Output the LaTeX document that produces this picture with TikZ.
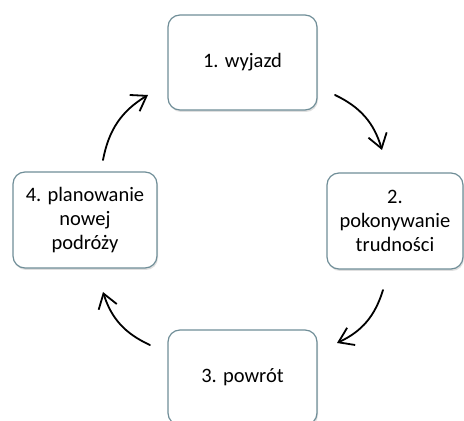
\documentclass[tikz,border=0pt]{standalone}
\usepackage{fontspec}
\setmainfont{Carlito}
\usepackage{tikz}
\usetikzlibrary{shapes,arrows.meta,shadows}
\definecolor{boxline}{RGB}{112,142,152}
\tikzset{
	stage/.style = {shape=rectangle, rounded corners=12pt,
		draw=boxline, line width=1.2pt, fill=white, align=center,
		inner sep=0pt, minimum width=149pt, minimum height=95pt,
		font=\fontsize{20.5}{24}\selectfont,
		drop shadow={opacity=0.25, shadow xshift=1pt, shadow yshift=-2pt}},
	turn/.style = {-{Straight Barb[length=14pt,width=19pt]},
		line width=1.8pt, line cap=round, bend left=24},
}

\begin{document}
\begin{tikzpicture}[x=1pt, y=1pt]
\useasboundingbox (0,0) rectangle (464,421);

\node [stage] (wyjazd) at (242.5,358.5) {1. wyjazd};
\node [stage, minimum width=136pt, minimum height=96pt] (trudnosci) at (395,200) {2.\\ pokonywanie\\ trudności};
\node [stage] (powrot) at (242.5,43.5) {3. powrót};
\node [stage, minimum width=144pt, minimum height=96pt] (planowanie) at (85,201) {4. planowanie\\ nowej\\ podróży};

% ends of the arrows between the stages
\coordinate (a12) at (335,326);
\coordinate (b12) at (382,271);
\coordinate (a23) at (383,131);
\coordinate (b23) at (337,78);
\coordinate (a34) at (150,76);
\coordinate (b34) at (103,129);
\coordinate (a41) at (103,261);
\coordinate (b41) at (148,326);

\draw [turn] (a12) to (b12);
\draw [turn] (a23) to (b23);
\draw [turn] (a34) to (b34);
\draw [turn] (a41) to (b41);
\end{tikzpicture}
\end{document}
